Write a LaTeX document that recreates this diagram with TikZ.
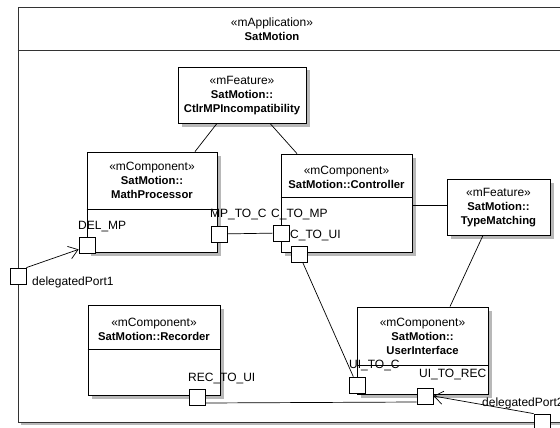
\documentclass[tikz,border=0pt]{standalone}
\usepackage{fontspec}
\setmainfont{Liberation Sans}
\usetikzlibrary{arrows.meta,shadows}
\newcommand\boldtxt[1]{{\fontsize{11.3}{14}\selectfont\bfseries #1}}
\tikzset{
  every node/.style={font=\fontsize{12}{14}\selectfont},
  box/.style={draw=black, line width=0.8pt, fill=white, inner sep=0pt,
    drop shadow={shadow xshift=3.5pt, shadow yshift=-3.5pt, fill=black!28, opacity=1}},
  frm/.style={draw=black!80, line width=0.9pt, fill=white, inner sep=0pt,
    drop shadow={shadow xshift=3pt, shadow yshift=-3pt, fill=black!28, opacity=1}},
  port/.style={draw=black, line width=0.8pt, fill=white, minimum size=16pt, inner sep=0pt},
  txt/.style={align=center, inner sep=0pt},
  plabel/.style={anchor=west, inner sep=0pt},
  conn/.style={draw=black, line width=0.7pt},
  deleg/.style={conn, -{Straight Barb[length=9pt,width=13pt,line width=0.7pt]}},
}
\begin{document}
\begin{tikzpicture}[x=1pt,y=-1pt]
\useasboundingbox (0,0) rectangle (560,428);
\clip (0,0) rectangle (560,428);

% outer frame
\node[frm, minimum width=557pt, minimum height=415pt] (frame) at (296.5,214.5) {};
\draw[draw=black!80, line width=0.8pt] (frame.west |- 0,50) -- (frame.east |- 0,50);
\node[txt] (frametxt) at (272,29) {«mApplication»\\\boldtxt{SatMotion}};

% boxes
\node[box, minimum width=128pt, minimum height=56pt] (ctlrmp) at (242,95) {};
\node[txt] (ctlrmptxt) at (242,96) {«mFeature»\\\boldtxt{SatMotion::}\\\boldtxt{CtlrMPIncompatibility}};

\node[box, minimum width=130pt, minimum height=100pt] (mp) at (152,202) {};
\draw[conn] (mp.west |- 0,209) -- (mp.east |- 0,209);
\node[txt] (mptxt) at (152,180) {«mComponent»\\\boldtxt{SatMotion::}\\\boldtxt{MathProcessor}};

\node[box, minimum width=131pt, minimum height=98pt] (ctrl) at (346.5,203) {};
\draw[conn] (ctrl.west |- 0,197) -- (ctrl.east |- 0,197);
\node[txt] (ctrltxt) at (346.5,177) {«mComponent»\\\boldtxt{SatMotion::Controller}};

\node[box, minimum width=103pt, minimum height=56pt] (tm) at (498.5,207) {};
\node[txt] (tmtxt) at (498.5,208) {«mFeature»\\\boldtxt{SatMotion::}\\\boldtxt{TypeMatching}};

\node[box, minimum width=132pt, minimum height=90pt] (rec) at (154,350) {};
\draw[conn] (rec.west |- 0,349) -- (rec.east |- 0,349);
\node[txt] (rectxt) at (154,329) {«mComponent»\\\boldtxt{SatMotion::Recorder}};

\node[box, minimum width=131pt, minimum height=87pt] (ui) at (422.5,350.5) {};
\draw[conn] (ui.west |- 0,365) -- (ui.east |- 0,365);
\node[txt] (uitxt) at (422.5,336) {«mComponent»\\\boldtxt{SatMotion::}\\\boldtxt{UserInterface}};

% connectors between boxes
\draw[conn] ([xshift=-25pt]ctlrmp.south) -- ([xshift=43pt]mp.north);
\draw[conn] ([xshift=28pt]ctlrmp.south) -- ([xshift=-49.5pt]ctrl.north);
\draw[conn] (ctrl.east |- 0,205) coordinate (ctrlE) -- (tm.west |- ctrlE);
\draw[conn] ([xshift=-15.5pt]tm.south) -- ([xshift=27.5pt]ui.north);

% ports
\node[port] (delmp) at (87,245) {};
\node[port] (mptoc) at (219,234) {};
\node[port] (ctomp) at (281,233) {};
\node[port] (ctoui) at (299,254) {};
\node[port] (uitoc) at (357,385) {};
\node[port] (uitorec) at (425,396) {};
\node[port] (rectoui) at (197,397) {};
\node[port] (dpone) at (18,276) {};
\node[port] (dptwo) at (542,422) {};

% port connectors
\draw[conn] (mptoc) -- (ctomp);
\draw[conn] (ctoui) -- (uitoc);
\draw[conn] ([yshift=-6pt]rectoui.east) -- ([yshift=-6pt]uitorec.west);
\draw[deleg] (dpone.north east) -- ([yshift=4pt]delmp.south west);
\draw[deleg] (dptwo.north west) -- (uitorec.east);

% port labels
\node[plabel] (ldelmp) at (78,227) {DEL\_MP};
\node[plabel] (lmptoc) at (210,215) {MP\_TO\_C};
\node[plabel] (lctomp) at (271,215) {C\_TO\_MP};
\node[plabel] (lctoui) at (290,236) {C\_TO\_UI};
\node[plabel] (luitoc) at (349,366) {UI\_TO\_C};
\node[plabel] (luitorec) at (419,375) {UI\_TO\_REC};
\node[plabel] (lrectoui) at (188,379) {REC\_TO\_UI};
\node[plabel] (ldpone) at (32,282) {delegatedPort1};
\node[plabel] (ldptwo) at (482,403) {delegatedPort2};
\end{tikzpicture}
\end{document}
